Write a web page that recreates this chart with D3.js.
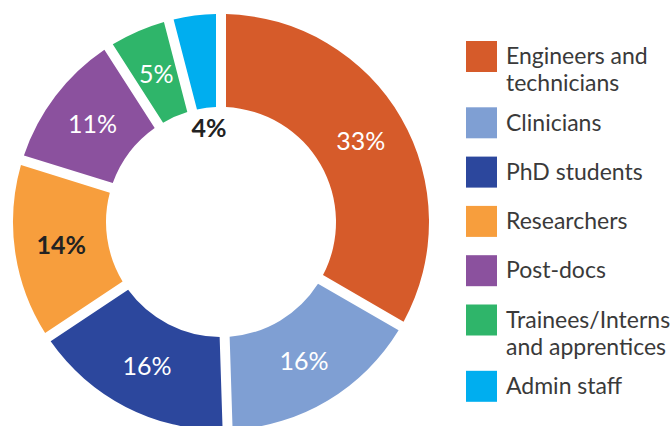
<!DOCTYPE html>
<html>
<head>
<meta charset="utf-8">
<script src="https://cdn.jsdelivr.net/npm/d3@7"></script>
<style>
  body { margin: 0; background: #fff; }
  text { font-family: Lato, "Noto Sans", sans-serif; }
</style>
</head>
<body>
<svg id="chart"></svg>
<script>
// Staff breakdown
var categories = ["Engineers and technicians", "Clinicians", "PhD students", "Researchers",
                  "Post-docs", "Trainees/Interns and apprentices", "Admin staff"];
var legendLines = [["Engineers and", "technicians"], ["Clinicians"], ["PhD students"], ["Researchers"],
                   ["Post-docs"], ["Trainees/Interns", "and apprentices"], ["Admin staff"]];
var shares = [33, 16, 16, 14, 11, 5, 4];
var colors = ["#d65b2a", "#7f9fd3", "#2c479d", "#f79e3d", "#8b519e", "#2fb56a", "#00aeef"];
var darkLabel = [false, false, false, true, false, false, true];

var width = 671, height = 426;
var cx = 221, cy = 222,
    outerR = 208, innerR = 115;

var svg = d3.select("#chart")
    .attr("width", width)
    .attr("height", height);

var g = svg.append("g")
    .attr("transform", "translate(" + cx + "," + cy + ")");

var pie = d3.pie().sort(null).value(function(d) { return d; });
var arc = d3.arc()
    .innerRadius(innerR)
    .outerRadius(outerR)
    .padAngle(10 / outerR)
    .padRadius(outerR);

var arcs = pie(shares);

g.selectAll("path")
    .data(arcs)
    .join("path")
    .attr("d", arc)
    .attr("fill", function(d, i) { return colors[i]; });

// small slices get their label inside the hole
var holeArc = d3.arc().innerRadius(95).outerRadius(95);

g.selectAll("text.pct")
    .data(arcs)
    .join("text")
    .attr("class", "pct")
    .attr("transform", function(d) {
        var c = d.data < 5 ? holeArc.centroid(d) : arc.centroid(d);
        return "translate(" + c[0] + "," + c[1] + ")";
    })
    .attr("text-anchor", "middle")
    .attr("dy", "0.36em")
    .attr("font-size", 25)
    .attr("font-weight", function(d, i) { return darkLabel[i] ? "bold" : "normal"; })
    .attr("fill", function(d, i) { return darkLabel[i] ? "#222" : "#fff"; })
    .text(function(d) { return d.data + "%"; });

// legend
var legend = svg.append("g").attr("transform", "translate(466,41)");
var y = 0;
legendLines.forEach(function(lines, i) {
    var item = legend.append("g").attr("transform", "translate(0," + y + ")");
    item.append("rect")
        .attr("width", 31)
        .attr("height", 31)
        .attr("fill", colors[i]);
    item.selectAll("text")
        .data(lines)
        .join("text")
        .attr("x", 40)
        .attr("y", function(d, j) { return 15 + j * 27; })
        .attr("dy", "0.36em")
        .attr("font-size", 23)
        .attr("fill", "#3a3a3a")
        .text(function(d) { return d; });
    y += 49.3 + (lines.length - 1) * 17;
});
</script>
</body>
</html>
